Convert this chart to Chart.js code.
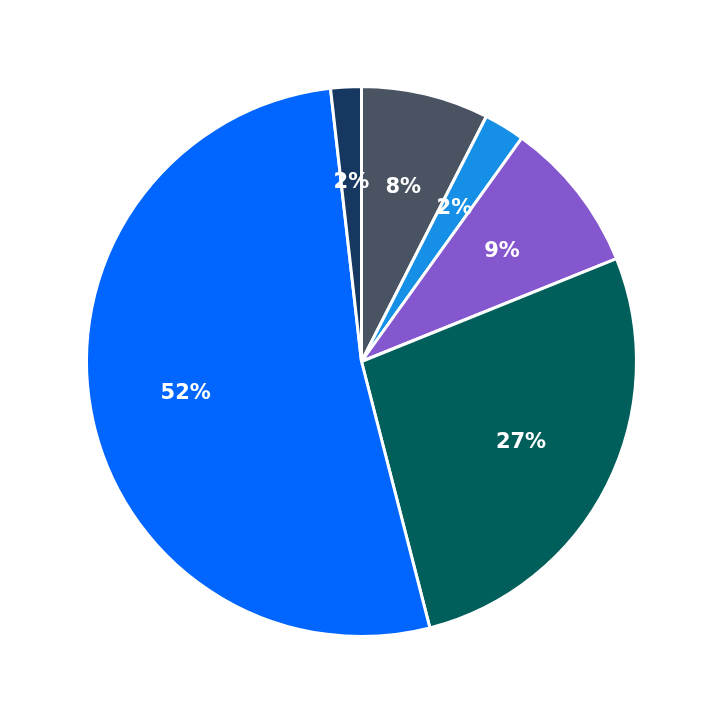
<!DOCTYPE html>
<html><head><meta charset="utf-8">
<script src="https://cdn.jsdelivr.net/npm/chart.js@4/dist/chart.umd.min.js"></script>
<style>html,body{margin:0;padding:0;background:#fff}#w{width:723px;height:723px}</style>
</head><body><div id="w"><canvas id="c"></canvas></div>
<script>
const categories = ["A","B","C","D","E","F"];
const values = [7.5, 2.4, 9.0, 27.1, 52.2, 1.8];
const colors = ["#4a5361","#1590e6","#8557cf","#005e5b","#0066ff","#16375f"];
const labelPlugin = {
  id:'lbl',
  afterDatasetsDraw(chart){
    const ctx = chart.ctx, meta = chart.getDatasetMeta(0);
    const total = values.reduce((a,b)=>a+b,0);
    ctx.save();
    ctx.font = 'bold 21px "DejaVu Sans"';
    ctx.fillStyle = '#fff'; ctx.textAlign='center'; ctx.textBaseline='middle';
    meta.data.forEach((arc,i)=>{
      const a = (arc.startAngle+arc.endAngle)/2, r = arc.outerRadius*0.65;
      ctx.fillText(Math.round(values[i]/total*100)+'%', arc.x+Math.cos(a)*r, arc.y+Math.sin(a)*r);
    });
    ctx.restore();
  }
};
new Chart(document.getElementById('c'),{
  type:'pie',
  data:{labels:categories,datasets:[{data:values,backgroundColor:colors,borderColor:'#fff',borderWidth:3}]},
  options:{responsive:true,maintainAspectRatio:false,animation:false,
    layout:{padding:85},
    plugins:{legend:{display:false},tooltip:{enabled:false}}},
  plugins:[labelPlugin]
});
</script></body></html>
